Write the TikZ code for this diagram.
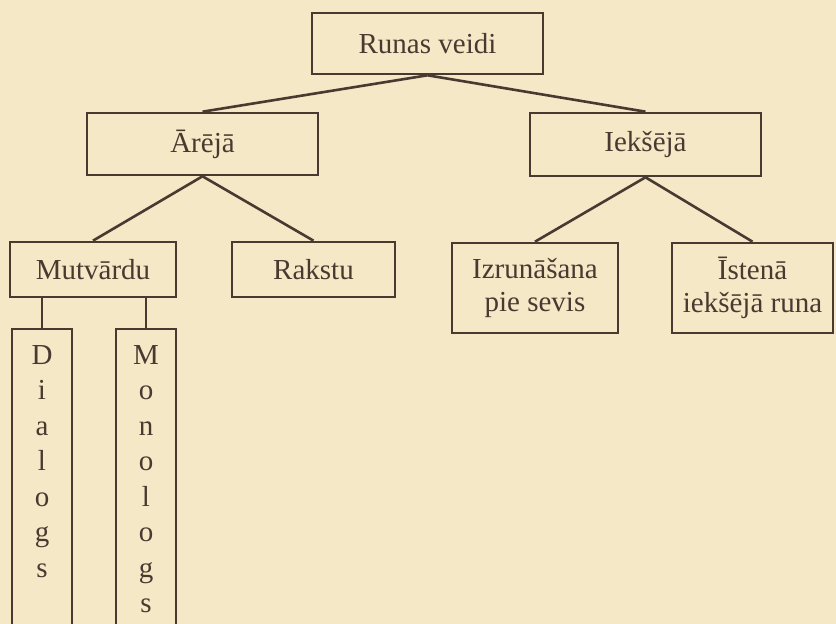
\documentclass[tikz,border=0pt]{standalone}
\usepackage{fontspec}
\setmainfont{Liberation Serif}
\usetikzlibrary{positioning}
\definecolor{paper}{RGB}{244,232,199}
\definecolor{ink}{RGB}{72,58,48}
\begin{document}
\begin{tikzpicture}[x=0.5pt,y=-0.5pt]

      \useasboundingbox (0,0) rectangle (836,624);
      \fill[paper] (0,0) rectangle (836,624);
      \clip (0,0) rectangle (836,624);

      \begin{scope}[every node/.style={rectangle,draw=ink,line width=1.3pt,text=ink,
          align=center,inner sep=0pt,font=\fontsize{14.5}{16.5}\selectfont}]
        \node[minimum width=115.5pt,minimum height=30.5pt] (runas)  at (427.5,43.5) {Runas veidi};
        \node[minimum width=115.5pt,minimum height=31pt]   (areja)  at (202.5,144)  {Ārējā};
        \node[minimum width=115.5pt,minimum height=31.5pt] (ieksa)  at (645.5,144.5) {Iekšējā};
        \node[minimum width=83pt,minimum height=27.5pt]    (mutv)   at (93,269.5)   {Mutvārdu};
        \node[minimum width=81.5pt,minimum height=27.5pt]  (raksts) at (313.5,269.5) {Rakstu};
        \node[minimum width=83pt,minimum height=45pt]      (izrun)  at (535,288)    {Izrunāšana\\pie sevis};
        \node[minimum width=80.5pt,minimum height=45pt]    (istena) at (752.5,288)  {Īstenā\\iekšējā runa};
        \node[minimum width=30pt,minimum height=165.5pt]   (dial)   at (42,494.5)   {};
        \node[minimum width=30pt,minimum height=165.5pt]   (monol)  at (146,494.5)  {};
      \end{scope}

      \begin{scope}[every node/.style={text=ink,align=center,inner sep=0pt,
          font=\fontsize{14.5}{17.75}\selectfont}]
        \node[below=8.5pt of dial.north]  {D\\i\\a\\l\\o\\g\\s};
        \node[below=8.5pt of monol.north] {M\\o\\n\\o\\l\\o\\g\\s};
      \end{scope}

      \begin{scope}[every edge/.style={draw=ink,line width=1.3pt}]
        \path (runas.south) edge (areja.north);
        \path (runas.south) edge (ieksa.north);
        \path (areja.south) edge (mutv.north);
        \path (areja.south) edge (raksts.north);
        \path (ieksa.south) edge (izrun.north);
        \path (ieksa.south) edge (istena.north);
        \path (mutv.south -| dial.north)  edge (dial.north);
        \path (mutv.south -| monol.north) edge (monol.north);
      \end{scope}

    \end{tikzpicture}
\end{document}
